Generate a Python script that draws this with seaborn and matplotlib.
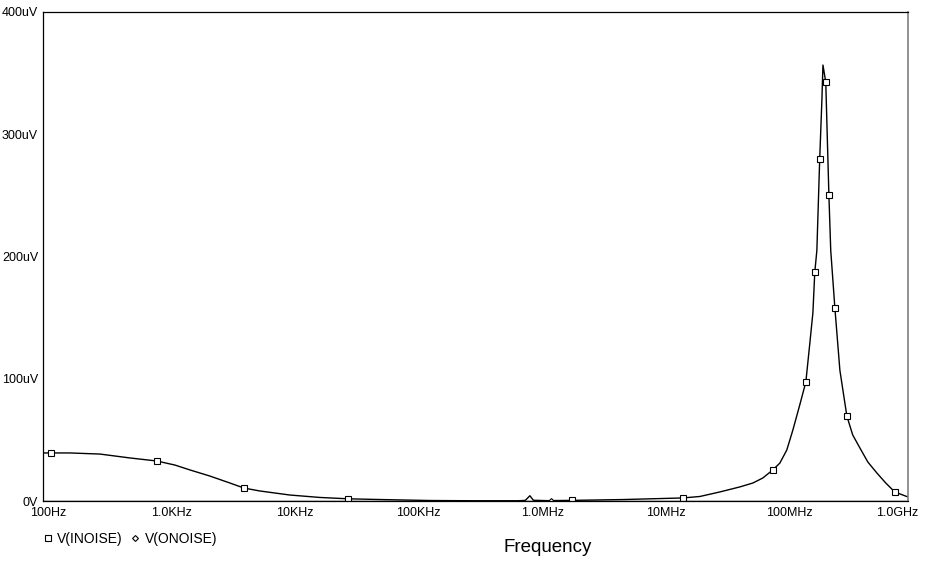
import numpy as np
import pandas as pd
import matplotlib
matplotlib.use("Agg")
import matplotlib.pyplot as plt
import matplotlib.transforms as mtrans
from matplotlib.lines import Line2D
import seaborn as sns

# ---- data (frequency in Hz, noise in uV) ----
inoise_freq = [100, 116, 165, 289, 506, 836, 1169, 1546, 2244, 3258, 4227, 5680,
               9930, 17400, 29400, 53300, 135e3, 300e3, 700e3, 800e3, 871e3,
               930e3, 1.2e6, 1.9e6, 5e6, 15.1e6, 20.7e6, 30e6, 43.5e6, 55.5e6,
               66.8e6, 80.5e6, 91.8e6, 104.5e6, 117e6, 133e6, 149e6, 160e6, 170e6,
               176e6, 183e6, 193e6, 201e6, 205e6, 216e6, 229e6, 237e6, 256e6,
               281e6, 320e6, 357e6, 408e6, 473e6, 560e6, 661e6, 781e6, 1e9]
inoise_uv = [39.3, 39.3, 39.3, 38.4, 35.2, 32.7, 29.4, 25.4, 20.4, 14.7, 10.6, 8.2,
             4.9, 2.9, 1.8, 1.2, 0.4, 0.2, 0.2, 0.5, 4.3,
             0.6, 0.3, 0.5, 1.2, 2.5, 3.7, 7.4, 11.5, 14.7,
             18.8, 25.4, 31.0, 41.7, 58.0, 78.5, 97.3, 127.6, 154.0,
             187.0, 205.0, 280.0, 328.0, 356.6, 342.7, 250.3, 205.0, 157.9,
             107.0, 69.5, 54.0, 43.4, 31.9, 22.9, 14.7, 7.4, 3.3]

inoise_mark_freq = [116, 836, 4227, 29400, 1.9e6, 15.1e6, 80.5e6, 149e6, 176e6,
                    193e6, 216e6, 229e6, 256e6, 320e6, 781e6]
inoise_mark_uv = [39.3, 32.7, 10.6, 1.8, 0.5, 2.5, 25.4, 97.3, 187.0,
                  280.0, 342.7, 250.3, 157.9, 69.5, 7.4]

onoise_freq = [100, 1e4, 1e6, 1.29e6, 1e8, 1e9]
onoise_uv = [0.2, 0.2, 0.2, 0.2, 0.2, 0.2]
onoise_mark_freq = [1.29e6]
onoise_mark_uv = [0.2]

y_ticks = [0, 100, 200, 300, 400]
y_labels = ["0V", "100uV", "200uV", "300uV", "400uV"]
x_ticks = [1e2, 1e3, 1e4, 1e5, 1e6, 1e7, 1e8, 1e9]
x_labels = ["100Hz", "1.0KHz", "10KHz", "100KHz", "1.0MHz", "10MHz", "100MHz", "1.0GHz"]

# ---- styling ----
sns.set_style("white")
plt.rcParams["font.family"] = ["Liberation Sans", "DejaVu Sans"]

fig = plt.figure(figsize=(9.25, 5.63), dpi=100)
ax = fig.add_axes([43 / 925, 1 - 501 / 563, (908 - 43) / 925, (501 - 12) / 563])

df_in = pd.DataFrame({"f": inoise_freq, "v": inoise_uv})
df_on = pd.DataFrame({"f": onoise_freq, "v": onoise_uv})
sns.lineplot(data=df_on, x="f", y="v", ax=ax, color="black", lw=1.0, sort=False)
sns.lineplot(data=df_in, x="f", y="v", ax=ax, color="black", lw=1.0, sort=False)

ax.plot(inoise_mark_freq, inoise_mark_uv, ls="none", marker="s", ms=4.5,
        mfc="white", mec="black", mew=0.8)
ax.plot(onoise_mark_freq, onoise_mark_uv, ls="none", marker="D", ms=3,
        mfc="white", mec="black", mew=0.8)

ax.set_xscale("log")
ax.set_xlim(1e2, 1e9)
ax.set_ylim(0, 400)
ax.set_xticks(x_ticks)
ax.set_xticklabels(x_labels)
ax.minorticks_off()
ax.set_yticks(y_ticks)
ax.set_yticklabels(y_labels)
ax.set_xlabel("")
ax.set_ylabel("")
ax.tick_params(axis="both", direction="inout", length=6, width=0.8,
               labelsize=9, colors="black", pad=1.5)
ax.tick_params(axis="y", pad=0.5)

# shift x tick labels like the reference (slightly right, last one left to fit)
labels = ax.get_xticklabels()
for i, lab in enumerate(labels):
    dx = 5 if i < len(labels) - 1 else -11
    lab.set_transform(lab.get_transform() +
                      mtrans.ScaledTranslation(dx / 100, 0, fig.dpi_scale_trans))

for s in ["left", "bottom", "top"]:
    ax.spines[s].set_visible(True)
    ax.spines[s].set_color("black")
    ax.spines[s].set_linewidth(0.9)
ax.spines["right"].set_visible(True)
ax.spines["right"].set_color("#808080")
ax.spines["right"].set_linewidth(1.2)

handles = [Line2D([], [], ls="none", marker="s", ms=4, mfc="white", mec="black", mew=0.8),
           Line2D([], [], ls="none", marker="D", ms=3, mfc="white", mec="black", mew=0.8)]
fig.legend(handles, ["V(INOISE)", "V(ONOISE)"], loc="center left",
           bbox_to_anchor=(42 / 925, 1 - 539 / 563), ncol=2, frameon=False,
           fontsize=10, handlelength=0.8, handletextpad=0.3, columnspacing=0.5,
           borderpad=0, borderaxespad=0, labelcolor="black")

fig.text(548 / 925, 1 - 548 / 563, "Frequency", ha="center", va="center",
         fontsize=13.5, color="black")

fig.savefig("out.png", dpi=100)
